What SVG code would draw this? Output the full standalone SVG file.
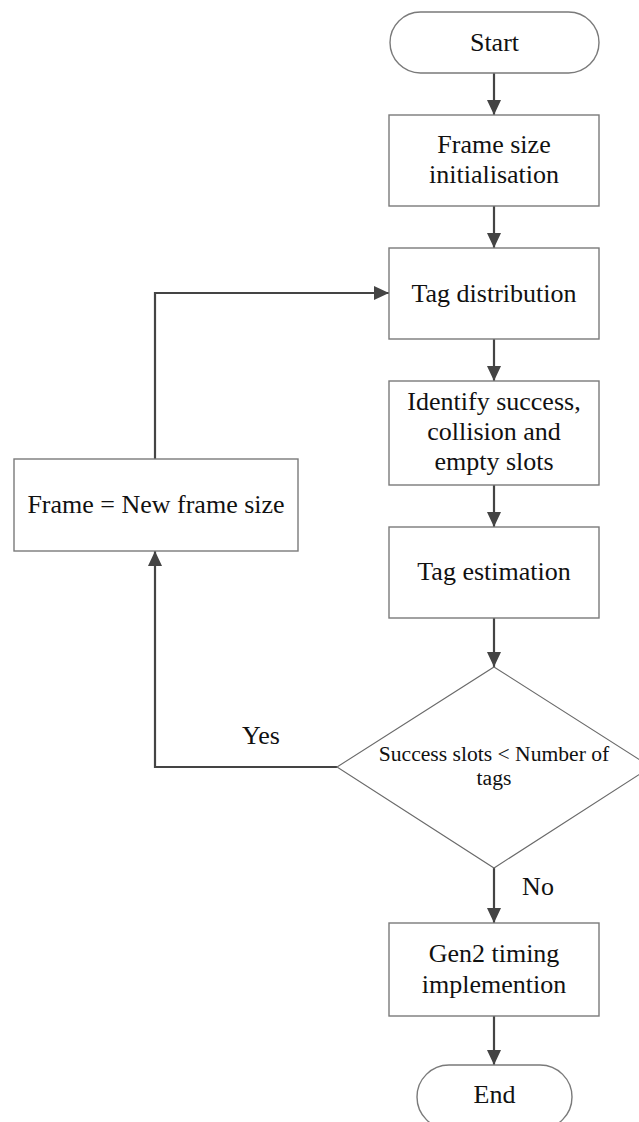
<svg xmlns="http://www.w3.org/2000/svg" width="639" height="1122" viewBox="0 0 639 1122">
  <style>
    .box { fill: #ffffff; stroke: #7a7a7a; stroke-width: 1.4; }
    .dia { fill: #ffffff; stroke: #6a6a6a; stroke-width: 1.1; }
    .lbl { font-family: "Liberation Serif", "Times New Roman", serif; font-size: 26px; fill: #111111; text-anchor: middle; }
    .small { font-size: 21.6px; }
    .edge { fill: none; stroke: #444444; stroke-width: 2.2; }
  </style>
  <defs>
    <marker id="arrow" markerUnits="userSpaceOnUse" markerWidth="15" markerHeight="14" refX="15" refY="7" orient="auto">
      <path d="M0,0 L15,7 L0,14 z" fill="#444444"/>
    </marker>
  </defs>

  <!-- flow connectors -->
  <g id="connectors">
    <line class="edge" x1="494" y1="73" x2="494" y2="115" marker-end="url(#arrow)"/>
    <line class="edge" x1="494" y1="206" x2="494" y2="248" marker-end="url(#arrow)"/>
    <line class="edge" x1="494" y1="339" x2="494" y2="381" marker-end="url(#arrow)"/>
    <line class="edge" x1="494" y1="485" x2="494" y2="527" marker-end="url(#arrow)"/>
    <line class="edge" x1="494" y1="618" x2="494" y2="667" marker-end="url(#arrow)"/>
    <line class="edge" x1="494" y1="868" x2="494" y2="923" marker-end="url(#arrow)"/>
    <line class="edge" x1="494" y1="1016" x2="494" y2="1065" marker-end="url(#arrow)"/>
    <polyline class="edge" points="337,767 155,767 155,551" marker-end="url(#arrow)"/>
    <polyline class="edge" points="155,459 155,293 389,293" marker-end="url(#arrow)"/>
    <text class="lbl" x="261" y="744">Yes</text>
    <text class="lbl" x="538" y="895">No</text>
  </g>

  <g id="start">
    <rect class="box" x="390" y="12" width="209" height="61" rx="30.5" ry="30.5"/>
    <text class="lbl" x="494.5" y="51">Start</text>
  </g>

  <g id="frame-init">
    <rect class="box" x="389" y="115" width="210" height="91"/>
    <text class="lbl" x="494" y="153">Frame size</text>
    <text class="lbl" x="494" y="183">initialisation</text>
  </g>

  <g id="tag-distribution">
    <rect class="box" x="389" y="248" width="210" height="91"/>
    <text class="lbl" x="494" y="302">Tag distribution</text>
  </g>

  <g id="identify-slots">
    <rect class="box" x="389" y="381" width="210" height="104"/>
    <text class="lbl" x="494" y="410">Identify success,</text>
    <text class="lbl" x="494" y="440">collision and</text>
    <text class="lbl" x="494" y="470">empty slots</text>
  </g>

  <g id="tag-estimation">
    <rect class="box" x="389" y="527" width="210" height="91"/>
    <text class="lbl" x="494" y="580">Tag estimation</text>
  </g>

  <g id="decision">
    <polygon class="dia" points="494,667 651,767 494,868 337,767"/>
    <text class="lbl small" x="494" y="761">Success slots &lt; Number of</text>
    <text class="lbl small" x="494" y="785">tags</text>
  </g>

  <g id="new-frame">
    <rect class="box" x="14" y="459" width="284" height="92"/>
    <text class="lbl" x="156" y="513">Frame = New frame size</text>
  </g>

  <g id="gen2-timing">
    <rect class="box" x="389" y="923" width="210" height="93"/>
    <text class="lbl" x="494" y="962">Gen2 timing</text>
    <text class="lbl" x="494" y="993">implemention</text>
  </g>

  <g id="end">
    <rect class="box" x="417" y="1065" width="155" height="64" rx="32" ry="32"/>
    <text class="lbl" x="494.5" y="1103">End</text>
  </g>
</svg>
